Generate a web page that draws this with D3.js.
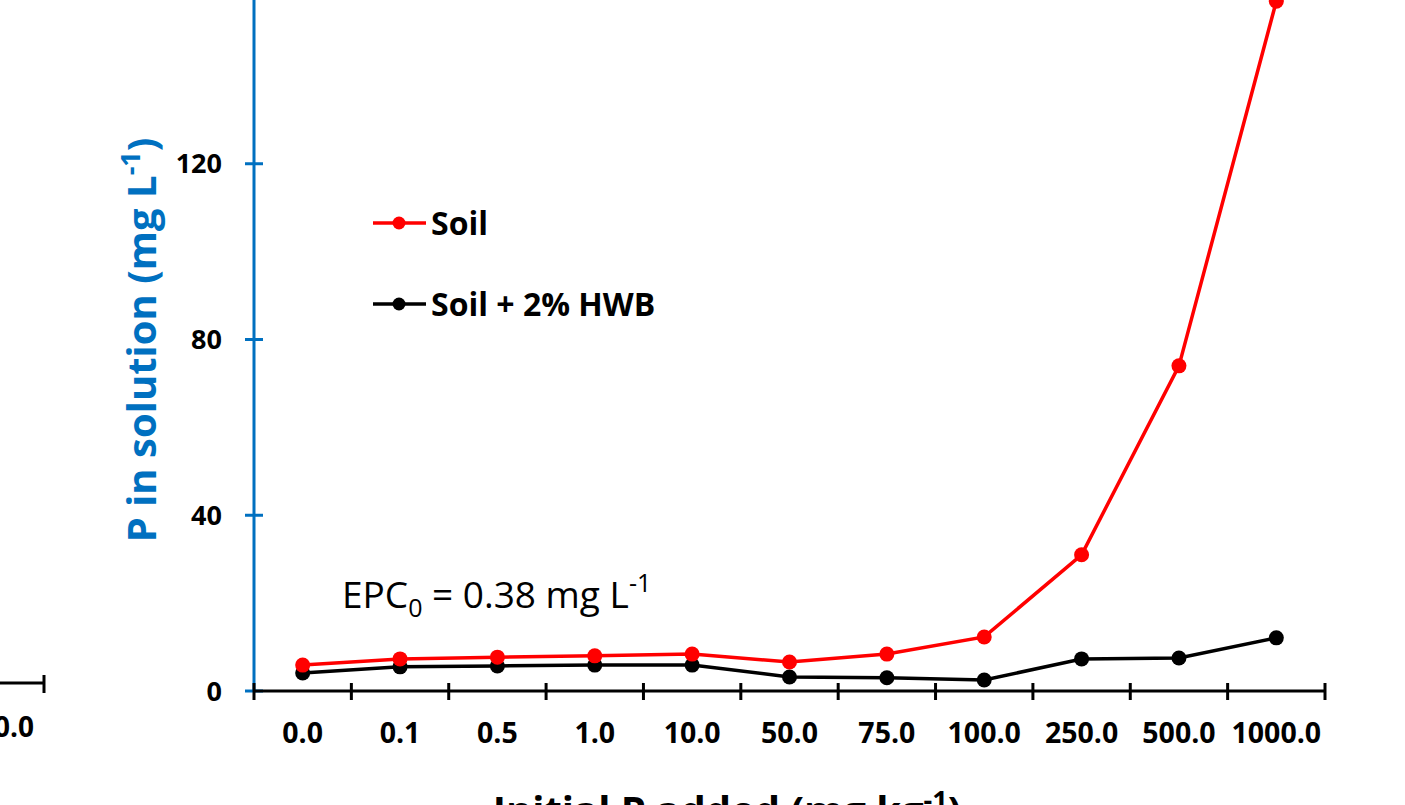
<!DOCTYPE html>
<html><head><meta charset="utf-8">
<script src="https://cdn.jsdelivr.net/npm/d3@7"></script>
<style>html,body{margin:0;padding:0;background:#fff;overflow:hidden}svg{display:block}</style>
</head><body>
<svg id="c" width="1405" height="805"></svg>
<script>
const categories = ["0.0","0.1","0.5","1.0","10.0","50.0","75.0","100.0","250.0","500.0","1000.0"];
const soil = [5.9, 7.3, 7.7, 8.0, 8.4, 6.6, 8.4, 12.3, 31.0, 74.0, 157.0];
const soilHWB = [4.1, 5.5, 5.7, 5.9, 5.9, 3.2, 3.0, 2.5, 7.3, 7.5, 12.1];
const yTicks = [0, 40, 80, 120];
const seriesNames = ["Soil", "Soil + 2% HWB"];

const svg = d3.select("#c");
const FONT = "'Open Sans', Lato, sans-serif";
const BLUE = "#0070C0";

const x = d3.scaleBand().domain(categories).range([254, 1325]).padding(0);
const y = d3.scaleLinear().domain([0, 160]).range([691, -12]);
const cx = d => x(d) + x.bandwidth() / 2;

// partial axis of left neighbouring panel
svg.append("line").attr("x1", -5).attr("x2", 45).attr("y1", 683).attr("y2", 683)
  .attr("stroke", "#000").attr("stroke-width", 3);
svg.append("line").attr("x1", 44).attr("x2", 44).attr("y1", 675).attr("y2", 693)
  .attr("stroke", "#000").attr("stroke-width", 3);
svg.append("text").attr("x", 34).attr("y", 737).attr("text-anchor", "end")
  .attr("font-family", FONT).attr("font-weight", "bold").attr("font-size", 28)
  .text("1000.0");

// Y axis (blue)
const yAxis = svg.append("g").attr("transform", "translate(254,0)");
yAxis.append("line").attr("x1", 0).attr("x2", 0).attr("y1", y.range()[1]).attr("y2", y(0))
  .attr("stroke", BLUE).attr("stroke-width", 3);
yAxis.selectAll("line.t").data(yTicks).join("line").attr("class", "t")
  .attr("x1", -9).attr("x2", 9).attr("y1", d => y(d)).attr("y2", d => y(d))
  .attr("stroke", BLUE).attr("stroke-width", 3);
yAxis.selectAll("text").data(yTicks).join("text")
  .attr("x", -32).attr("y", d => y(d)).attr("dy", "0.36em").attr("text-anchor", "end")
  .attr("font-family", FONT).attr("font-weight", "bold").attr("font-size", 27)
  .text(d => d);

// Y title
const yt = svg.append("text").attr("transform", "translate(156,340) rotate(-90)")
  .attr("text-anchor", "middle").attr("fill", BLUE)
  .attr("font-family", FONT).attr("font-weight", "bold").attr("font-size", 40);
yt.append("tspan").text("P in solution (mg L");
yt.append("tspan").attr("dy", -16).attr("font-size", 27).text("-1");
yt.append("tspan").attr("dy", 16).text(")");

// X axis (black)
const xAxis = svg.append("g");
xAxis.append("line").attr("x1", 254).attr("x2", 1325).attr("y1", y(0)).attr("y2", y(0))
  .attr("stroke", "#000").attr("stroke-width", 3);
const edges = categories.map(c => x(c)).concat([x(categories[categories.length - 1]) + x.bandwidth()]);
xAxis.selectAll("line.t").data(edges).join("line").attr("class", "t")
  .attr("x1", d => d).attr("x2", d => d).attr("y1", y(0) - 8).attr("y2", y(0) + 9)
  .attr("stroke", "#000").attr("stroke-width", 3);
xAxis.selectAll("text").data(categories).join("text")
  .attr("x", d => cx(d)).attr("y", 743).attr("text-anchor", "middle")
  .attr("font-family", FONT).attr("font-weight", "bold").attr("font-size", 28.5)
  .text(d => d);

// X title (cut off)
const xt = svg.append("text").attr("x", 727).attr("y", 825).attr("text-anchor", "middle")
  .attr("font-family", FONT).attr("font-weight", "bold").attr("font-size", 40);
xt.append("tspan").text("Initial P added (mg kg");
xt.append("tspan").attr("dy", -15).attr("font-size", 27).text("-1");
xt.append("tspan").attr("dy", 15).text(")");

// Lines
const line = d3.line().x((d, i) => cx(categories[i])).y(d => y(d));
const series = [{vals: soil, color: "#FF0000"}, {vals: soilHWB, color: "#000000"}];
[series[1], series[0]].forEach(s => {
  svg.append("path").datum(s.vals).attr("d", line).attr("fill", "none")
    .attr("stroke", s.color).attr("stroke-width", 3.5);
  svg.selectAll(null).data(s.vals).join("circle")
    .attr("cx", (d, i) => cx(categories[i])).attr("cy", d => y(d)).attr("r", 7.5)
    .attr("fill", s.color);
});

// Legend
const legY = [223, 304];
const legColors = ["#FF0000", "#000000"];
seriesNames.forEach((n, i) => {
  svg.append("line").attr("x1", 373).attr("x2", 426).attr("y1", legY[i]).attr("y2", legY[i])
    .attr("stroke", legColors[i]).attr("stroke-width", 3.5);
  svg.append("circle").attr("cx", 399).attr("cy", legY[i]).attr("r", 6.5).attr("fill", legColors[i]);
  svg.append("text").attr("x", 431).attr("y", legY[i]).attr("dy", "0.36em")
    .attr("font-family", FONT).attr("font-weight", "bold").attr("font-size", 32).text(n);
});

// EPC annotation
const ep = svg.append("text").attr("x", 342).attr("y", 608)
  .attr("font-family", FONT).attr("font-size", 37);
ep.append("tspan").text("EPC");
ep.append("tspan").attr("dy", 9).attr("font-size", 25).text("0");
ep.append("tspan").attr("dy", -9).text(" = 0.38 mg L");
ep.append("tspan").attr("dy", -16).attr("font-size", 25).text("-1");
</script>
</body></html>
